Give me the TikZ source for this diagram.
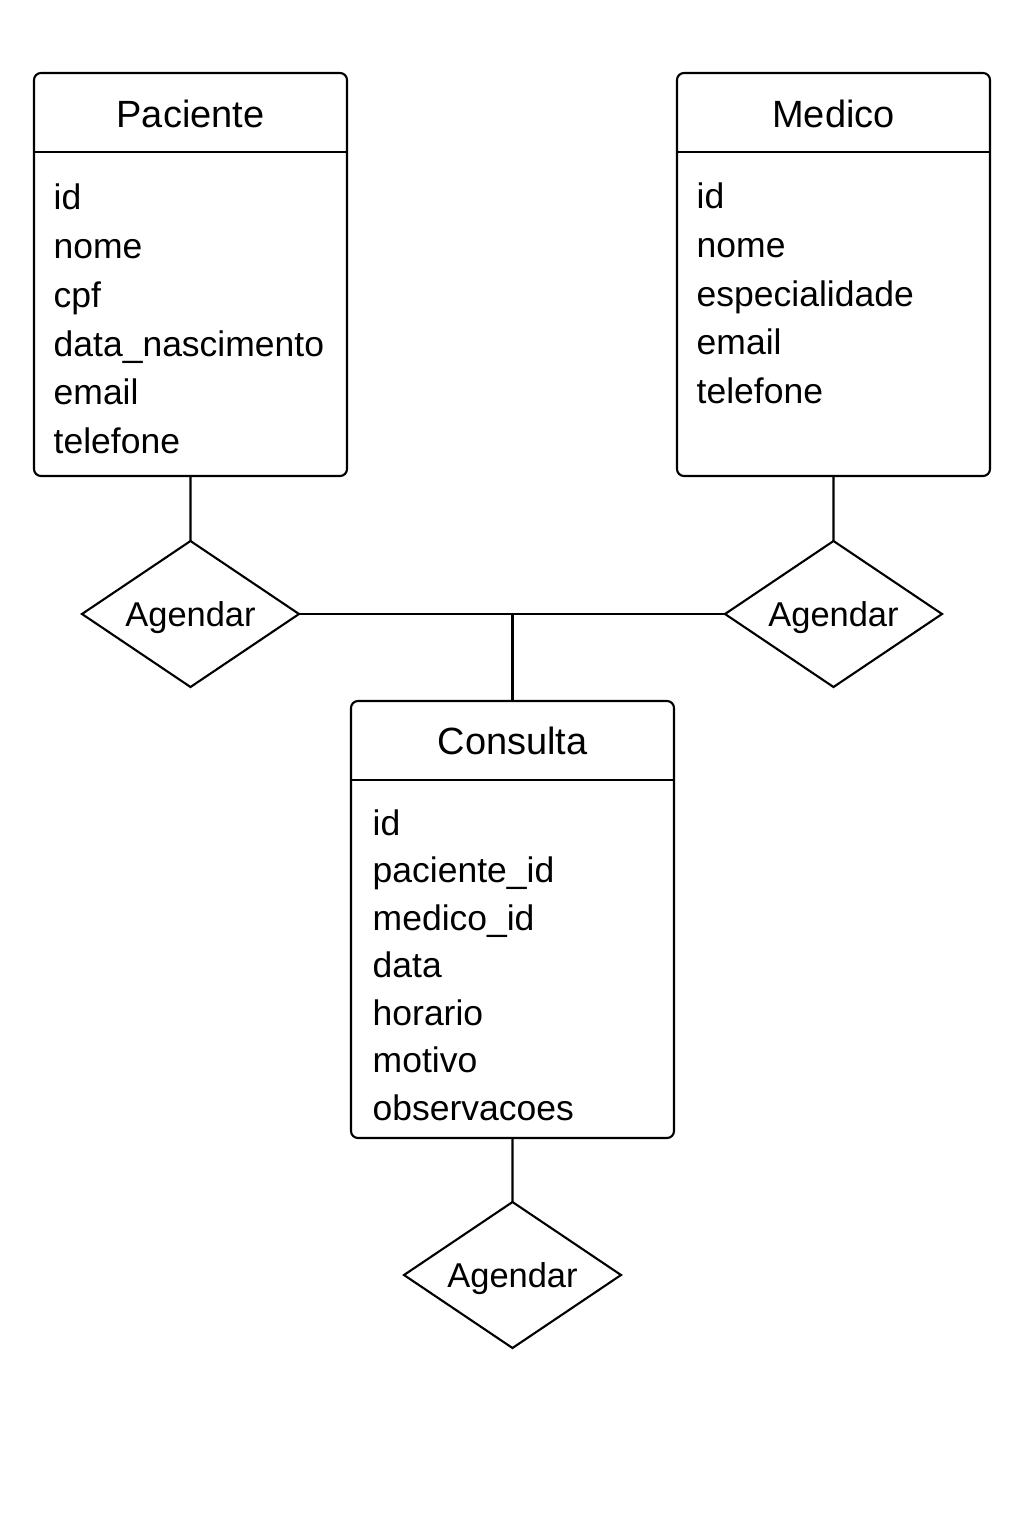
\documentclass[tikz,border=0pt]{standalone}
\usepackage{fontspec}
\setmainfont{Liberation Sans}
\usetikzlibrary{shapes,positioning,calc}

\begin{document}
\begin{tikzpicture}
  \tikzstyle{entity}=[draw, line width=0.6pt, rounded corners=0.07cm, inner sep=0pt, outer sep=0pt, anchor=north west]
  \tikzstyle{title}=[anchor=base, inner sep=0pt, font=\fontsize{10.8}{13}\selectfont]
  \tikzstyle{attr}=[anchor=mid west, inner sep=0pt, font=\fontsize{10.1}{12}\selectfont]
  \tikzstyle{rel}=[draw, diamond, line width=0.6pt, minimum width=2.17cm, minimum height=1.46cm, inner sep=0pt, outer sep=0pt]
  \tikzstyle{link}=[line width=0.6pt]

  \useasboundingbox (0,0) rectangle (10.24,-15.36);

  % Entidades
  \node[entity, minimum width=3.13cm, minimum height=4.03cm] (pac) at (0.34,-0.73) {};
  \node[entity, minimum width=3.13cm, minimum height=4.03cm] (med) at (6.77,-0.73) {};
  \node[entity, minimum width=3.23cm, minimum height=4.37cm] (con) at (3.51,-7.01) {};

  % Cabecalhos
  \draw[link] ($(pac.north west)+(0,-0.79)$) -- ($(pac.north east)+(0,-0.79)$);
  \draw[link] ($(med.north west)+(0,-0.79)$) -- ($(med.north east)+(0,-0.79)$);
  \draw[link] ($(con.north west)+(0,-0.79)$) -- ($(con.north east)+(0,-0.79)$);
  \node[title] (pact) at (1.905,-1.27) {Paciente};
  \node[title] (medt) at (8.335,-1.27) {Medico};
  \node[title] (cont) at (5.125,-7.54) {Consulta};

  % Atributos de Paciente
  \node[attr] (pac1) at (0.53,-2.00) {id};
  \node[attr] (pac2) at (0.53,-2.49) {nome};
  \node[attr] (pac3) at (0.53,-2.98) {cpf};
  \node[attr] (pac4) at (0.53,-3.47) {data\_nascimento};
  \node[attr] (pac5) at (0.53,-3.95) {email};
  \node[attr] (pac6) at (0.53,-4.44) {telefone};

  % Atributos de Medico
  \node[attr] (med1) at (6.96,-1.99) {id};
  \node[attr] (med2) at (6.96,-2.48) {nome};
  \node[attr] (med3) at (6.96,-2.97) {especialidade};
  \node[attr] (med4) at (6.96,-3.45) {email};
  \node[attr] (med5) at (6.96,-3.94) {telefone};

  % Atributos de Consulta
  \node[attr] (con1) at (3.72,-8.26) {id};
  \node[attr] (con2) at (3.72,-8.73) {paciente\_id};
  \node[attr] (con3) at (3.72,-9.21) {medico\_id};
  \node[attr] (con4) at (3.72,-9.68) {data};
  \node[attr] (con5) at (3.72,-10.16) {horario};
  \node[attr] (con6) at (3.72,-10.63) {motivo};
  \node[attr] (con7) at (3.72,-11.11) {observacoes};

  % Relacionamentos
  \node[rel, label={[font=\fontsize{9.8}{12}\selectfont, yshift=-0.04cm]center:Agendar}] (agp) at (1.905,-6.14) {};
  \node[rel, label={[font=\fontsize{9.8}{12}\selectfont, yshift=-0.04cm]center:Agendar}] (agm) at (8.335,-6.14) {};
  \node[rel, label={[font=\fontsize{9.8}{12}\selectfont, yshift=-0.04cm]center:Agendar}] (agc) at (5.125,-12.75) {};

  % Ligacoes
  \draw[link] (pac.south) -- (agp.north);
  \draw[link] (med.south) -- (agm.north);
  \draw[link] (agp.east) -- (agm.west);
  \coordinate (j) at (con.north |- agp.east);
  \draw[link] (j) -- (con.north);
  \draw[link] (con.south) -- (agc.north);
\end{tikzpicture}
\end{document}
